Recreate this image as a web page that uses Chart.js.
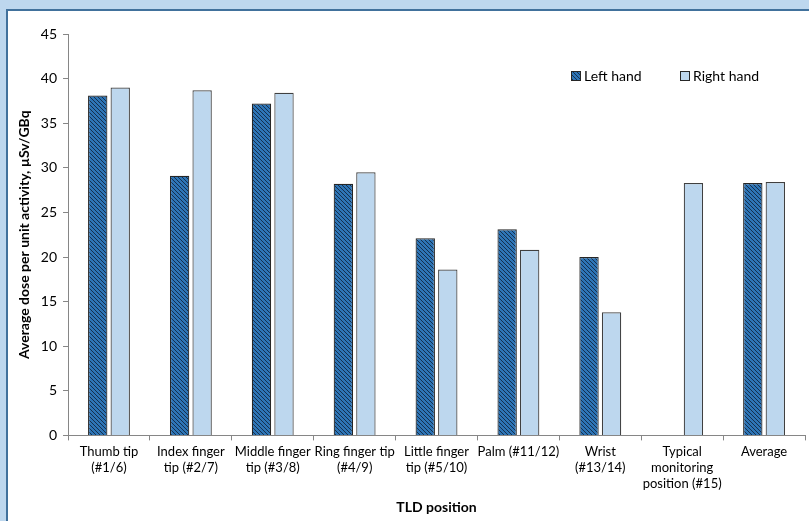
<!DOCTYPE html>
<html>
<head>
<meta charset="utf-8">
<script src="https://cdn.jsdelivr.net/npm/chart.js@4.4.1/dist/chart.umd.min.js"></script>
<style>
  html, body { margin: 0; padding: 0; width: 809px; height: 521px; overflow: hidden; background: #bdd7ee; }
  #panel {
    position: absolute; left: 6px; top: 9px; width: 803px; height: 512px;
    background: #fff; border-top: 2px solid #41719c; border-left: 2px solid #41719c;
  }
  #panel canvas { display: block; }
</style>
</head>
<body>
<div id="panel"><canvas id="grafica" width="801" height="510"></canvas></div>
<script>
// posiciones TLD y dosis medias (µSv/GBq)
const categorias = [
  ["Thumb tip", "(#1/6)"],
  ["Index finger", "tip (#2/7)"],
  ["Middle finger", "tip (#3/8)"],
  ["Ring finger tip", "(#4/9)"],
  ["Little finger", "tip (#5/10)"],
  ["Palm (#11/12)"],
  ["Wrist", "(#13/14)"],
  ["Typical", "monitoring", "position (#15)"],
  ["Average"]
];
const manoIzquierda = [38.1, 29.1, 37.2, 28.2, 22.1, 23.1, 20.0, null, 28.3];
const manoDerecha = [39.0, 38.7, 38.4, 29.5, 18.6, 20.8, 13.8, 28.3, 28.4];
const ticksY = [0, 5, 10, 15, 20, 25, 30, 35, 40, 45];

const fuente = "Lato, 'Open Sans', sans-serif";

function rayado() {
  const c = document.createElement("canvas");
  c.width = 4; c.height = 4;
  const g = c.getContext("2d");
  g.fillStyle = "#2e75b6";
  g.fillRect(0, 0, 4, 4);
  g.strokeStyle = "#14304f";
  g.lineWidth = 1;
  g.beginPath();
  g.moveTo(-1, -1); g.lineTo(5, 5);
  g.moveTo(-1, 3); g.lineTo(1, 5);
  g.moveTo(3, -1); g.lineTo(5, 1);
  g.stroke();
  return g.createPattern(c, "repeat");
}

// leyenda dentro del area del grafico, arriba a la derecha
const leyendaInterna = {
  id: "leyendaInterna",
  afterDraw(chart) {
    const g = chart.ctx;
    const area = chart.chartArea;
    const y = area.top + 42;
    const posiciones = [area.right - 234, area.right - 125];
    g.save();
    g.font = "14px " + fuente;
    g.textBaseline = "middle";
    chart.data.datasets.forEach((ds, i) => {
      const x = posiciones[i];
      g.fillStyle = ds.backgroundColor;
      g.fillRect(x, y - 5, 10, 10);
      g.strokeStyle = "#262626";
      g.lineWidth = 1;
      g.strokeRect(x + 0.5, y - 4.5, 9, 9);
      g.fillStyle = "#000";
      g.fillText(ds.label, x + 13, y);
    });
    g.restore();
  }
};

const ctx = document.getElementById("grafica").getContext("2d");
const patron = rayado();

new Chart(ctx, {
  type: "bar",
  data: {
    labels: categorias,
    datasets: [
      {
        label: "Left hand",
        data: manoIzquierda,
        backgroundColor: patron,
        borderColor: "#262626",
        borderWidth: 1.2,
        categoryPercentage: 0.55,
        barPercentage: 0.86
      },
      {
        label: "Right hand",
        data: manoDerecha,
        backgroundColor: "#bdd7ee",
        borderColor: "#404040",
        borderWidth: 1.2,
        categoryPercentage: 0.55,
        barPercentage: 0.86
      }
    ]
  },
  options: {
    responsive: false,
    animation: false,
    layout: { padding: { left: 4, right: 4, top: 23, bottom: 1 } },
    plugins: {
      tooltip: { enabled: false },
      legend: { display: false }
    },
    scales: {
      x: {
        grid: { display: true, offset: true, drawOnChartArea: false, drawTicks: true, tickLength: 5, color: "#868686" },
        border: { color: "#868686", width: 1 },
        ticks: { color: "#000", font: { family: fuente, size: 13 }, maxRotation: 0, autoSkip: false, padding: 4 },
        title: { display: true, text: "TLD position", color: "#000", font: { family: fuente, size: 14, weight: "bold" }, padding: { top: 4 } }
      },
      y: {
        min: 0,
        max: 45,
        afterBuildTicks: (eje) => { eje.ticks = ticksY.map(v => ({ value: v })); },
        grid: { display: true, drawOnChartArea: false, drawTicks: true, tickLength: 5, color: "#868686" },
        border: { color: "#868686", width: 1 },
        ticks: { color: "#000", font: { family: fuente, size: 14 }, padding: 6 },
        title: { display: true, text: "Average dose per unit activity, µSv/GBq", color: "#000", font: { family: fuente, size: 14, weight: "bold" }, padding: { bottom: 2 } }
      }
    }
  },
  plugins: [leyendaInterna]
});
</script>
</body>
</html>
